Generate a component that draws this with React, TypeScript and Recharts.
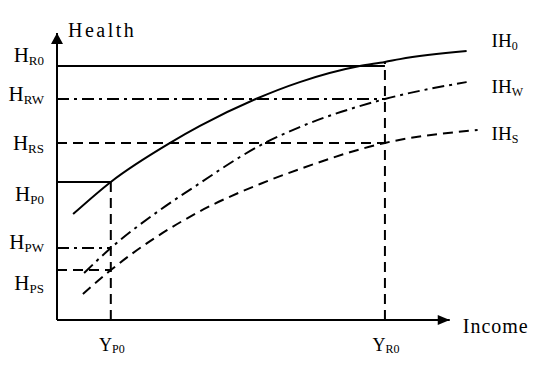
import { ComposedChart, Line, XAxis, YAxis, ReferenceLine, ReferenceDot } from 'recharts'

const FONT = "'Liberation Serif', 'Times New Roman', 'DejaVu Serif', serif"

// income scale 0-110, axis arrow at 100
const yP0 = 13.7
const yR0 = 83.5
const incomeTicks = [yP0, yR0]
const incomeSubs = ['P0', 'R0']

// health scale 0-100
const hR0 = 88.5
const hRW = 77.0
const hRS = 61.7
const hP0 = 48.1
const hPW = 25.1
const hPS = 17.4
const healthTicks = [92.3, 78.6, 61.7, 43.9, 27.2, 12.9]
const healthSubs = ['R0', 'RW', 'RS', 'P0', 'PW', 'PS']

// curves
const ih0Income = [4.1, 13.7, 28.8, 36.4, 50.6, 61.8, 77.1, 83.5, 87.3, 104.3]
const ih0Health = [36.9, 48.1, 61.7, 67.6, 77.0, 82.9, 88.5, 89.9, 90.9, 93.7]
const ihwIncome = [6.9, 13.7, 26.2, 36.4, 46.6, 52.9, 61.8, 83.5, 104.3]
const ihwHealth = [16.4, 25.1, 38.3, 47.7, 56.8, 61.7, 67.2, 77.0, 82.9]
const ihsIncome = [6.6, 13.7, 36.4, 51.7, 61.8, 83.5, 107.1]
const ihsHealth = [9.1, 17.4, 37.9, 47.4, 52.6, 61.7, 66.2]

const toPoints = (xs: number[], ys: number[]) => xs.map((x, i) => ({ x, y: ys[i] }))
const ih0 = toPoints(ih0Income, ih0Health)
const ihw = toPoints(ihwIncome, ihwHealth)
const ihs = toPoints(ihsIncome, ihsHealth)

const DASH_DOT = '12 5 3 5'
const DASHED = '10 6'
const textStyle = { fontFamily: FONT }

const YTick = (props: any) => {
  const { x, y, payload } = props
  const i = healthTicks.indexOf(payload.value)
  return (
    <text x={x} y={y} dy={7} textAnchor="end" style={textStyle} fill="#000">
      <tspan fontSize={21}>H</tspan>
      <tspan fontSize={13} dy={3}>{healthSubs[i]}</tspan>
    </text>
  )
}

const XTick = (props: any) => {
  const { x, y, payload } = props
  const i = incomeTicks.indexOf(payload.value)
  return (
    <text x={x + 1} y={y} dy={31} textAnchor="middle" style={textStyle} fill="#000">
      <tspan fontSize={18}>Y</tspan>
      <tspan fontSize={12} dy={2}>{incomeSubs[i]}</tspan>
    </text>
  )
}

const UpArrow = (props: any) => {
  const { cx, cy } = props
  return (
    <g>
      <path d={`M${cx},${cy} L${cx - 6},${cy + 11} L${cx + 6},${cy + 11} Z`} fill="#000" />
      <text x={cx + 11} y={cy + 4} fontSize={20} letterSpacing={2.5} style={textStyle} fill="#000">
        Health
      </text>
    </g>
  )
}

const RightArrow = (props: any) => {
  const { cx, cy } = props
  return (
    <g>
      <path d={`M${cx},${cy} L${cx - 12},${cy - 5} L${cx - 12},${cy + 5} Z`} fill="#000" />
      <text x={cx + 13} y={cy + 13} fontSize={20} letterSpacing={1} style={textStyle} fill="#000">
        Income
      </text>
    </g>
  )
}

const curveLabel = (sub: string, dx: number, dy: number) => (props: any) => {
  const { cx, cy } = props
  return (
    <text x={cx + dx} y={cy + dy} style={textStyle} fill="#000">
      <tspan fontSize={19}>IH</tspan>
      <tspan fontSize={12} dy={3}>{sub}</tspan>
    </text>
  )
}

export default function App() {
  return (
    <div style={{ position: 'absolute', left: 0, top: 0, width: 550, height: 367, background: '#fff' }}>
      <ComposedChart width={550} height={367} margin={{ top: 33, right: 61, left: 0, bottom: 0 }}>
        <XAxis
          type="number"
          dataKey="x"
          domain={[0, 110]}
          allowDataOverflow
          ticks={incomeTicks}
          interval={0}
          axisLine={false}
          tickLine={false}
          tickSize={0}
          tickMargin={0}
          height={47}
          tick={XTick}
        />
        <YAxis
          type="number"
          dataKey="y"
          domain={[0, 100]}
          allowDataOverflow
          ticks={healthTicks}
          interval={0}
          axisLine={{ stroke: '#000', strokeWidth: 2 }}
          tickLine={false}
          tickSize={0}
          tickMargin={13}
          width={57}
          tick={YTick}
        />
        <ReferenceLine segment={[{ x: 0, y: 0 }, { x: 100, y: 0 }]} stroke="#000" strokeWidth={2} />

        {/* guides */}
        <ReferenceLine segment={[{ x: 0, y: hR0 }, { x: yR0, y: hR0 }]} stroke="#000" strokeWidth={2} />
        <ReferenceLine segment={[{ x: 0, y: hRW }, { x: yR0, y: hRW }]} stroke="#000" strokeWidth={2} strokeDasharray={DASH_DOT} />
        <ReferenceLine segment={[{ x: 0, y: hRS }, { x: yR0, y: hRS }]} stroke="#000" strokeWidth={2} strokeDasharray={DASHED} />
        <ReferenceLine segment={[{ x: 0, y: hP0 }, { x: yP0, y: hP0 }]} stroke="#000" strokeWidth={2} />
        <ReferenceLine segment={[{ x: 0, y: hPW }, { x: yP0, y: hPW }]} stroke="#000" strokeWidth={2} strokeDasharray={DASH_DOT} />
        <ReferenceLine segment={[{ x: 0, y: hPS }, { x: yP0, y: hPS }]} stroke="#000" strokeWidth={2} strokeDasharray={DASHED} />
        <ReferenceLine segment={[{ x: yP0, y: 0 }, { x: yP0, y: hP0 }]} stroke="#000" strokeWidth={2} strokeDasharray={DASHED} />
        <ReferenceLine segment={[{ x: yR0, y: 0 }, { x: yR0, y: 89.9 }]} stroke="#000" strokeWidth={2} strokeDasharray={DASHED} />

        <Line data={ih0} dataKey="y" type="monotone" stroke="#000" strokeWidth={2} dot={false} activeDot={false} isAnimationActive={false} />
        <Line data={ihw} dataKey="y" type="monotone" stroke="#000" strokeWidth={2} strokeDasharray={DASH_DOT} dot={false} activeDot={false} isAnimationActive={false} />
        <Line data={ihs} dataKey="y" type="monotone" stroke="#000" strokeWidth={2} strokeDasharray={DASHED} dot={false} activeDot={false} isAnimationActive={false} />

        <ReferenceDot x={0} y={100} r={1} shape={UpArrow} />
        <ReferenceDot x={100} y={0} r={1} shape={RightArrow} />
        <ReferenceDot x={ih0Income[ih0Income.length - 1]} y={ih0Health[ih0Health.length - 1]} r={1} shape={curveLabel('0', 25, -4)} />
        <ReferenceDot x={ihwIncome[ihwIncome.length - 1]} y={ihwHealth[ihwHealth.length - 1]} r={1} shape={curveLabel('W', 25, 11)} />
        <ReferenceDot x={ihsIncome[ihsIncome.length - 1]} y={ihsHealth[ihsHealth.length - 1]} r={1} shape={curveLabel('S', 14, 10)} />
      </ComposedChart>
    </div>
  )
}
